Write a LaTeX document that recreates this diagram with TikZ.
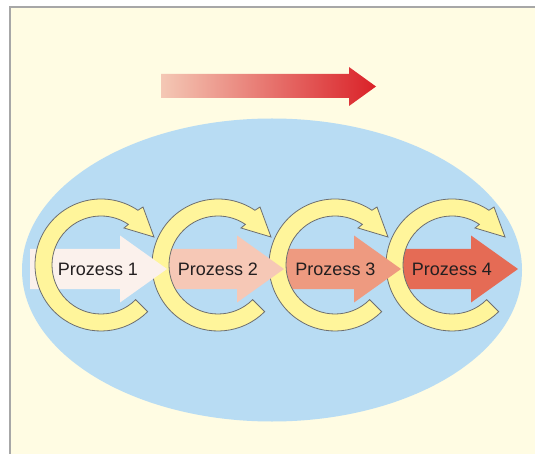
\documentclass[tikz,border=0pt]{standalone}
\usepackage{fontspec}
\setmainfont{Liberation Sans}
\definecolor{cream}{HTML}{FFFCE3}
\definecolor{framegray}{HTML}{A7A7A7}
\definecolor{sky}{HTML}{B8DCF3}
\definecolor{stepA}{HTML}{FBF1EC}
\definecolor{stepB}{HTML}{F6C8B6}
\definecolor{stepC}{HTML}{EE9A80}
\definecolor{stepD}{HTML}{E56B55}
\definecolor{ringfill}{HTML}{FFF59B}
\definecolor{ringline}{HTML}{6D6E70}
\definecolor{txt}{HTML}{231F20}
\definecolor{gradstart}{HTML}{F4C8B5}
\definecolor{gradend}{HTML}{DA2128}
\tikzset{
  ringstyle/.style={fill=ringfill, draw=ringline, line width=0.8pt, line join=miter},
  label/.style={text=txt, font=\fontsize{18}{20}\selectfont, inner sep=0pt},
  % block arrow pointing right, tip at the given point
  pics/procarrow/.style args={#1/#2}{code={
    \fill[#1] (-#2,-20) -- (-47,-20) -- (-47,-33.5) -- (0,0) -- (-47,33.5) -- (-47,20) -- (-#2,20) -- cycle;
  }},
  % open circular arrow turning clockwise, head at the upper right
  pics/cyclering/.style={code={
    \path[ringstyle] (-56:66) arc[start angle=-56, end angle=-315, radius=66]
      -- (-315:49) arc[start angle=-315, end angle=-56, radius=49]
      -- (23,-37) -- (53,-28) -- (42,-58) -- cycle;
  }}
}
\begin{document}
\begin{tikzpicture}[x=1pt,y=-1pt]
\useasboundingbox (0,0) rectangle (535,454);
% sheet and frame
\fill[white] (0,0) rectangle (535,454);
\fill[cream] (10,7) rectangle (535,454);
\draw[framegray, line width=2pt] (10,454) -- (10,7) -- (535,7);

% direction arrow with colour gradient
\shade[left color=gradstart, right color=gradend]
  (161,74) -- (349,74) -- (349,67) -- (376,86.5) -- (349,106) -- (349,98) -- (161,98) -- cycle;

% background ellipse
\fill[sky] (272,270) ellipse[x radius=250, y radius=151.5];

% process arrows and cycles, drawn from the last step backwards
\pic at (518,269) {procarrow={stepD/117}};
\pic at (452,265) {cyclering};
\pic at (401,269) {procarrow={stepC/117}};
\pic at (335,265) {cyclering};
\pic at (284,269) {procarrow={stepB/117}};
\pic at (218,265) {cyclering};
\pic at (167,269) {procarrow={stepA/137}};
\pic at (101,265) {cyclering};

% labels
\node[label] (p1) at (98,269.5) {Prozess 1};
\node[label] (p2) at (218,269.5) {Prozess 2};
\node[label] (p3) at (335.5,269.5) {Prozess 3};
\node[label] (p4) at (452,269.5) {Prozess 4};
\end{tikzpicture}
\end{document}
